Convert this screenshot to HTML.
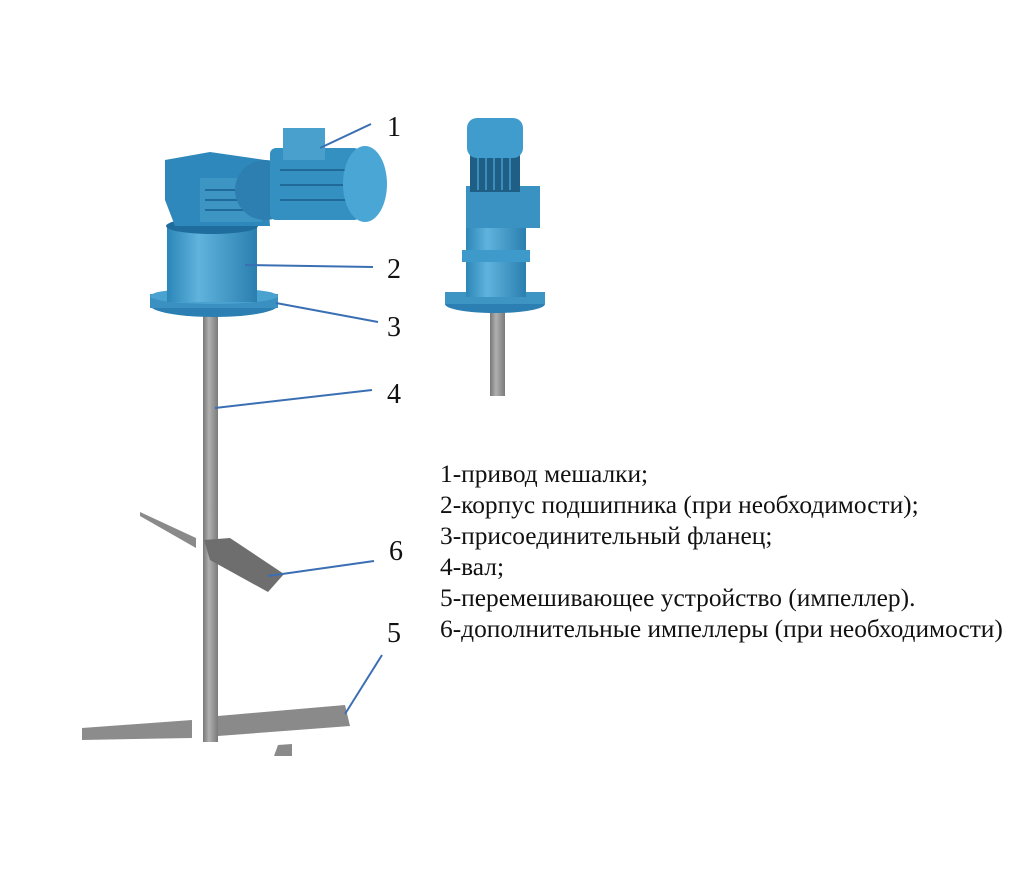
<!DOCTYPE html>
<html><head><meta charset="utf-8"><style>
html,body{margin:0;padding:0;background:#fff;width:1024px;height:872px;overflow:hidden}
svg{display:block}
text{font-family:"Liberation Serif",serif;fill:#111}
</style></head><body>
<svg width="1024" height="872" viewBox="0 0 1024 872">
<defs>
<linearGradient id="shaft" x1="0" x2="1"><stop offset="0" stop-color="#777"/><stop offset="0.4" stop-color="#b0b0b0"/><stop offset="1" stop-color="#7a7a7a"/></linearGradient>
<linearGradient id="cyl" x1="0" x2="1"><stop offset="0" stop-color="#2c86b8"/><stop offset="0.35" stop-color="#5fb3dc"/><stop offset="1" stop-color="#2b7fb0"/></linearGradient>
</defs>
<!-- left shaft -->
<rect x="203" y="312" width="15" height="430" fill="url(#shaft)"/>
<!-- impeller 6 -->
<polygon points="140,512 196,538 196,548 140,516" fill="#8a8a8a"/>
<polygon points="204,540 230,538 284,574 268,592 210,560" fill="#6e6e6e"/>
<!-- impeller 5 -->
<polygon points="82,728 192,720 192,738 82,740" fill="#8c8c8c"/>
<polygon points="218,716 345,705 350,726 218,736" fill="#8a8a8a"/>
<polygon points="278,745 292,744 292,756 274,756" fill="#8a8a8a"/>
<!-- left drive -->
<ellipse cx="214" cy="305" rx="64" ry="12" fill="#2c7fb2"/>
<rect x="150" y="294" width="128" height="14" fill="#3a90c0"/>
<ellipse cx="214" cy="296" rx="64" ry="8" fill="#4aa2d0"/>
<rect x="167" y="226" width="90" height="76" fill="url(#cyl)"/>
<ellipse cx="212" cy="226" rx="46" ry="8" fill="#1f6d9c"/>
<polygon points="165,160 210,152 265,160 270,226 175,226 165,200" fill="#2f88bb"/>
<rect x="200" y="178" width="62" height="44" fill="#3d95c4"/>
<g stroke="#1f6a98" stroke-width="2"><line x1="205" y1="190" x2="258" y2="190"/><line x1="205" y1="200" x2="258" y2="200"/><line x1="205" y1="210" x2="258" y2="210"/></g>
<circle cx="265" cy="190" r="30" fill="#2c7fb0"/>
<rect x="270" y="148" width="90" height="72" rx="6" fill="#3590c2"/>
<g stroke="#1f6a98" stroke-width="2"><line x1="280" y1="170" x2="355" y2="170"/><line x1="280" y1="185" x2="355" y2="185"/><line x1="280" y1="200" x2="355" y2="200"/></g>
<ellipse cx="365" cy="184" rx="22" ry="38" fill="#4aa6d4"/>
<rect x="283" y="128" width="42" height="32" fill="#4aa0cc"/>
<!-- right unit -->
<rect x="490" y="310" width="15" height="86" fill="url(#shaft)"/>
<ellipse cx="495" cy="304" rx="50" ry="9" fill="#2c7fb2"/>
<rect x="445" y="292" width="100" height="12" fill="#3d95c4"/>
<rect x="466" y="225" width="60" height="72" fill="url(#cyl)"/>
<rect x="462" y="250" width="68" height="12" fill="#3d9acb"/>
<rect x="466" y="186" width="74" height="42" fill="#3a92c3"/>
<rect x="470" y="152" width="50" height="40" fill="#1f5f86"/>
<g stroke="#3c8fbd" stroke-width="2"><line x1="478" y1="155" x2="478" y2="190"/><line x1="486" y1="155" x2="486" y2="190"/><line x1="494" y1="155" x2="494" y2="190"/><line x1="502" y1="155" x2="502" y2="190"/><line x1="510" y1="155" x2="510" y2="190"/></g>
<rect x="467" y="118" width="56" height="40" rx="10" fill="#3f9ccc"/>
<!-- leaders -->
<g stroke="#3b6fb4" stroke-width="2">
<line x1="320" y1="148" x2="371" y2="124"/>
<line x1="245" y1="265" x2="373" y2="267"/>
<line x1="276" y1="303" x2="378" y2="322"/>
<line x1="215" y1="408" x2="372" y2="390"/>
<line x1="268" y1="576" x2="374" y2="561"/>
<line x1="345" y1="714" x2="382" y2="655"/>
</g>
<g font-size="28">
<text x="387" y="136">1</text>
<text x="387" y="278">2</text>
<text x="387" y="336">3</text>
<text x="387" y="403">4</text>
<text x="389" y="560">6</text>
<text x="387" y="642">5</text>
</g>
<g font-size="25.4">
<text x="440" y="482">1-привод мешалки;</text>
<text x="440" y="513">2-корпус подшипника (при необходимости);</text>
<text x="440" y="544">3-присоединительный фланец;</text>
<text x="440" y="575">4-вал;</text>
<text x="440" y="606">5-перемешивающее устройство (импеллер).</text>
<text x="440" y="637">6-дополнительные импеллеры (при необходимости)</text>
</g>
</svg>
</body></html>
